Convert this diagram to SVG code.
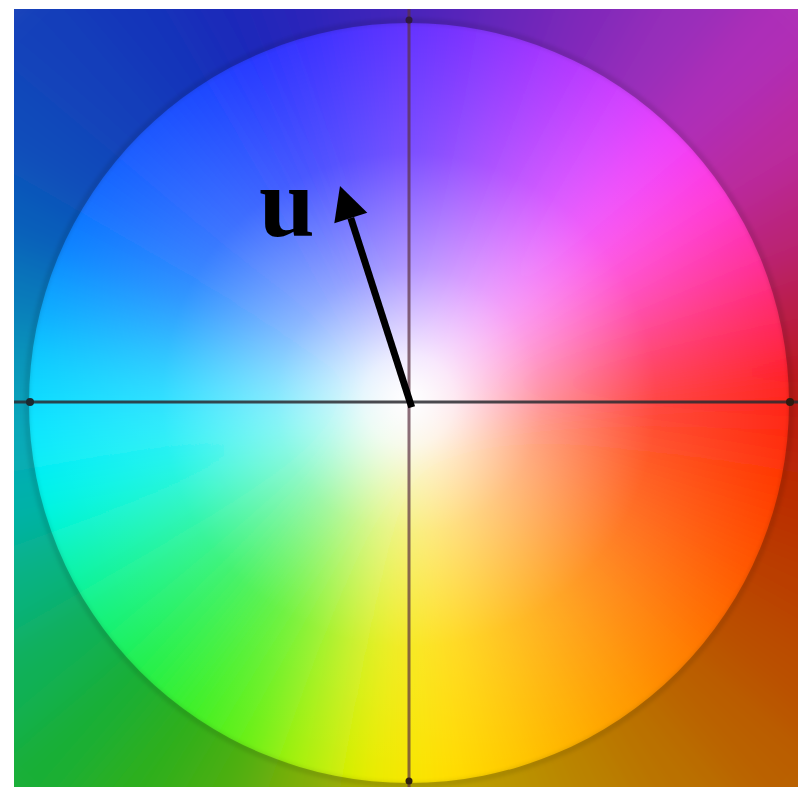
<svg xmlns="http://www.w3.org/2000/svg" width="798" height="787" viewBox="0 0 798 787">
  <defs>
    <clipPath id="sq"><rect x="14" y="9" width="784" height="778"/></clipPath>
    <filter id="soft" filterUnits="userSpaceOnUse" x="-300" y="-300" width="1400" height="1400">
      <feGaussianBlur stdDeviation="26"/>
    </filter>
    <filter id="rimblur" filterUnits="userSpaceOnUse" x="0" y="0" width="798" height="787">
      <feGaussianBlur stdDeviation="2"/>
    </filter>
    <radialGradient id="whiten" cx="409" cy="400" r="380" gradientUnits="userSpaceOnUse">
      <stop offset="0" stop-color="#fff" stop-opacity="1"/>
      <stop offset="0.12" stop-color="#fff" stop-opacity="0.88"/>
      <stop offset="0.35" stop-color="#fff" stop-opacity="0.5"/>
      <stop offset="0.65" stop-color="#fff" stop-opacity="0.15"/>
      <stop offset="1" stop-color="#fff" stop-opacity="0"/>
    </radialGradient>
    <style>
      .w { stroke-width: 2; }
      .axis { stroke-width: 3; fill: none; }
      .lbl { font-family: "Liberation Serif", "DejaVu Serif", serif; font-weight: bold; fill: #000; }
    </style>
  </defs>
  <rect width="798" height="787" fill="#fff"/>
  <g id="wheel" clip-path="url(#sq)">
    <g filter="url(#soft)">
      <path class="w" d="M409 403L1009 403L999.9 298.8Z" fill="#ff2428" stroke="#ff2428"/>
      <path class="w" d="M409 403L999.9 298.8L972.8 197.8Z" fill="#ff2a68" stroke="#ff2a68"/>
      <path class="w" d="M409 403L972.8 197.8L928.6 103Z" fill="#ff32a8" stroke="#ff32a8"/>
      <path class="w" d="M409 403L928.6 103L868.6 17.3Z" fill="#ff3adc" stroke="#ff3adc"/>
      <path class="w" d="M409 403L868.6 17.3L794.7 -56.6Z" fill="#f040fc" stroke="#f040fc"/>
      <path class="w" d="M409 403L794.7 -56.6L709 -116.6Z" fill="#d040ff" stroke="#d040ff"/>
      <path class="w" d="M409 403L709 -116.6L614.2 -160.8Z" fill="#b038ff" stroke="#b038ff"/>
      <path class="w" d="M409 403L614.2 -160.8L513.2 -187.9Z" fill="#9034ff" stroke="#9034ff"/>
      <path class="w" d="M409 403L513.2 -187.9L409 -197Z" fill="#7030ff" stroke="#7030ff"/>
      <path class="w" d="M409 403L409 -197L304.8 -187.9Z" fill="#5530ff" stroke="#5530ff"/>
      <path class="w" d="M409 403L304.8 -187.9L203.8 -160.8Z" fill="#3a30ff" stroke="#3a30ff"/>
      <path class="w" d="M409 403L203.8 -160.8L109 -116.6Z" fill="#2838ff" stroke="#2838ff"/>
      <path class="w" d="M409 403L109 -116.6L23.3 -56.6Z" fill="#1e48ff" stroke="#1e48ff"/>
      <path class="w" d="M409 403L23.3 -56.6L-50.6 17.3Z" fill="#1a58ff" stroke="#1a58ff"/>
      <path class="w" d="M409 403L-50.6 17.3L-110.6 103Z" fill="#1468ff" stroke="#1468ff"/>
      <path class="w" d="M409 403L-110.6 103L-154.8 197.8Z" fill="#1080ff" stroke="#1080ff"/>
      <path class="w" d="M409 403L-154.8 197.8L-181.9 298.8Z" fill="#10a8ff" stroke="#10a8ff"/>
      <path class="w" d="M409 403L-181.9 298.8L-191 403Z" fill="#10d0ff" stroke="#10d0ff"/>
      <path class="w" d="M409 403L-191 403L-181.9 507.2Z" fill="#08e8ff" stroke="#08e8ff"/>
      <path class="w" d="M409 403L-181.9 507.2L-154.8 608.2Z" fill="#00f4e8" stroke="#00f4e8"/>
      <path class="w" d="M409 403L-154.8 608.2L-110.6 703Z" fill="#08f4b0" stroke="#08f4b0"/>
      <path class="w" d="M409 403L-110.6 703L-50.6 788.7Z" fill="#14f278" stroke="#14f278"/>
      <path class="w" d="M409 403L-50.6 788.7L23.3 862.6Z" fill="#24f048" stroke="#24f048"/>
      <path class="w" d="M409 403L23.3 862.6L109 922.6Z" fill="#3cf028" stroke="#3cf028"/>
      <path class="w" d="M409 403L109 922.6L203.8 966.8Z" fill="#68f018" stroke="#68f018"/>
      <path class="w" d="M409 403L203.8 966.8L304.8 993.9Z" fill="#b0f010" stroke="#b0f010"/>
      <path class="w" d="M409 403L304.8 993.9L409 1003Z" fill="#ecec00" stroke="#ecec00"/>
      <path class="w" d="M409 403L409 1003L513.2 993.9Z" fill="#ffe000" stroke="#ffe000"/>
      <path class="w" d="M409 403L513.2 993.9L614.2 966.8Z" fill="#ffcc00" stroke="#ffcc00"/>
      <path class="w" d="M409 403L614.2 966.8L709 922.6Z" fill="#ffb400" stroke="#ffb400"/>
      <path class="w" d="M409 403L709 922.6L794.7 862.6Z" fill="#ff9c00" stroke="#ff9c00"/>
      <path class="w" d="M409 403L794.7 862.6L868.6 788.7Z" fill="#ff8400" stroke="#ff8400"/>
      <path class="w" d="M409 403L868.6 788.7L928.6 703Z" fill="#ff6c00" stroke="#ff6c00"/>
      <path class="w" d="M409 403L928.6 703L972.8 608.2Z" fill="#ff5400" stroke="#ff5400"/>
      <path class="w" d="M409 403L972.8 608.2L999.9 507.2Z" fill="#ff4000" stroke="#ff4000"/>
      <path class="w" d="M409 403L999.9 507.2L1009 403Z" fill="#ff2c10" stroke="#ff2c10"/>
    </g>
    <path id="outer-shade" fill-rule="evenodd" fill="#000" fill-opacity="0.27" d="M14 9H798V787H14Z M29 403A380 380 0 1 0 789 403A380 380 0 1 0 29 403Z"/>
    <circle cx="409" cy="403" r="382" fill="none" stroke="#000" stroke-opacity="0.12" stroke-width="5" filter="url(#rimblur)"/>
    <circle cx="409" cy="403" r="380" fill="url(#whiten)"/>
  </g>
  <g id="axes">
    <line class="axis" x1="14" y1="402" x2="798" y2="402" stroke="#2a2a30" stroke-opacity="0.85"/>
    <line class="axis" x1="409" y1="9" x2="409" y2="787" stroke="#5a3040" stroke-opacity="0.7"/>
    <circle cx="30" cy="402" r="4" fill="#1a2a30"/>
    <circle cx="790" cy="402" r="4" fill="#301a10"/>
    <circle cx="409" cy="20" r="3.5" fill="#301a40"/>
    <circle cx="409" cy="781" r="3.5" fill="#302010"/>
  </g>
  <g id="arrow">
    <line x1="411.7" y1="407.3" x2="350.8" y2="218" stroke="#000" stroke-width="7"/>
    <polygon points="340,186 334.3,223.3 367.3,212.7" fill="#000"/>
  </g>
  <g id="label-u">
    <text class="lbl" x="259" y="236" font-size="100">u</text>
  </g>
</svg>
